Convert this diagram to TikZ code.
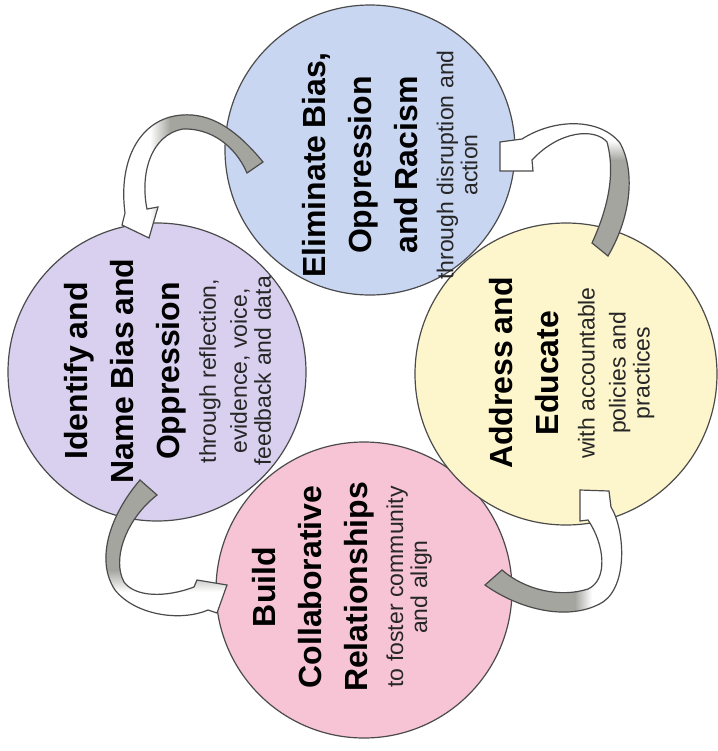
\documentclass[tikz,border=0pt]{standalone}
\usepackage{fontspec}
\setmainfont{Liberation Sans}
\definecolor{elimblue}{RGB}{201,214,242}
\definecolor{identlilac}{RGB}{216,208,238}
\definecolor{addressyellow}{RGB}{253,246,204}
\definecolor{buildpink}{RGB}{247,196,214}
\definecolor{ringline}{RGB}{75,75,75}
\definecolor{bandgray}{RGB}{165,165,160}
\newcommand{\bubblehead}{\fontsize{16}{23}\selectfont\bfseries}
\newcommand{\bubblesub}{\fontsize{11.5}{15.5}\selectfont\mdseries\color{black!85}}
\tikzset
{
	bubble/.style = {circle, draw=ringline, line width=0.6pt, minimum size=148pt, inner sep=0pt},
	bubbletext/.style = {rotate=90, align=center, text width=135pt, inner sep=0pt},
	bendarrow/.style = {draw=ringline, line width=0.6pt, fill=white}
}

\begin{document}
\begin{tikzpicture}[x=0.5pt, y=-0.5pt]
\useasboundingbox (0,0) rectangle (718,751);
\node[bubble, fill=identlilac, minimum size=149pt] (ident) at (157,372) {};
\node[bubble, fill=buildpink] (build) at (364,590) {};
\node[bubble, fill=elimblue, minimum size=145pt] (elim) at (370,150) {};
\node[bubble, fill=addressyellow, minimum size=151pt] (address) at (566,374) {};

\node[bubbletext] (elimtext) at (390,165) {\bubblehead Eliminate Bias,\\Oppression\\and Racism\\[2.5pt]\bubblesub through disruption and\\action};
\node[bubbletext] (identtext) at (168,371) {\bubblehead Identify and\\Name Bias and\\Oppression\\[2.5pt]\bubblesub through reflection,\\evidence, voice,\\feedback and data};
\node[bubbletext] (addresstext) at (572,373) {\bubblehead Address and\\Educate\\[2.5pt]\bubblesub with accountable\\policies and\\practices};
\node[bubbletext] (buildtext) at (342,587) {\bubblehead Build\\Collaborative\\Relationships\\[2.5pt]\bubblesub to foster community\\and align};

\draw[bendarrow, path picture={
		\fill[bandgray] (170,100) rectangle (270,250);
		\shade[left color=white, right color=bandgray] (150,100) rectangle (170,250);
	}] (263,162) .. controls (235,128) and (210,113) .. (182,115)
	.. controls (140,118) and (118,160) .. (125,213) -- (122,225) -- (149,238) -- (158,207) -- (147,209)
	.. controls (140,175) and (150,135) .. (183,129) .. controls (210,128) and (235,145) .. (247,173) -- cycle;
\draw[bendarrow, path picture={
		\fill[bandgray] (90,470) rectangle (240,570);
		\shade[top color=bandgray, bottom color=white] (90,570) rectangle (240,592);
	}] (140,480) .. controls (110,515) and (95,560) .. (115,590)
	.. controls (135,615) and (180,622) .. (208,610) -- (217,613) -- (227,585) -- (197,580) -- (194,587)
	.. controls (165,598) and (135,597) .. (124,582) .. controls (112,560) and (125,520) .. (157,495) -- cycle;
\draw[bendarrow, path picture={
		\fill[bandgray] (480,540) rectangle (575,630);
		\shade[left color=bandgray, right color=white] (575,540) rectangle (592,630);
	}] (485,585) .. controls (520,610) and (570,622) .. (603,602)
	.. controls (628,585) and (625,530) .. (611,507) -- (609,491) -- (580,490) -- (580,521) -- (588,520)
	.. controls (605,545) and (608,580) .. (588,589) .. controls (560,598) and (525,590) .. (502,570) -- cycle;
\draw[bendarrow, path picture={
		\fill[bandgray] (585,160) rectangle (640,260);
		\shade[top color=white, bottom color=bandgray] (585,140) rectangle (640,160);
	}] (592,243) .. controls (607,210) and (616,175) .. (607,142)
	.. controls (595,128) and (560,130) .. (532,160) -- (533,171) -- (500,171) -- (500,142) -- (522,139)
	.. controls (555,118) and (600,118) .. (620,143) .. controls (635,170) and (632,215) .. (608,256) -- cycle;
\end{tikzpicture}
\end{document}
